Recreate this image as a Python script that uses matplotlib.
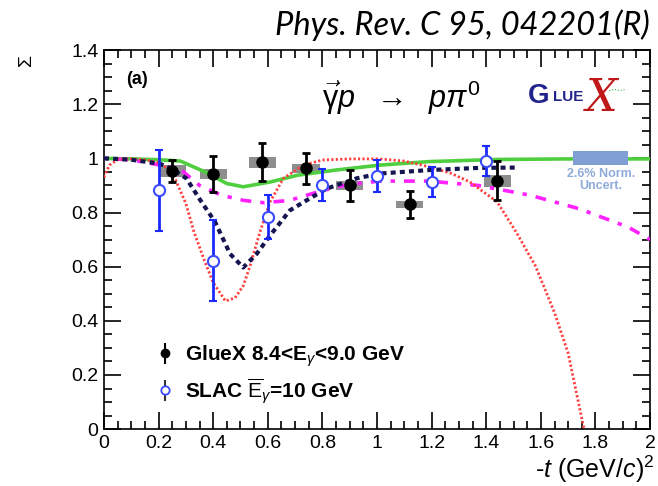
import numpy as np
import matplotlib
matplotlib.use("Agg")
import matplotlib.pyplot as plt
from matplotlib.patches import Rectangle

plt.rcParams['font.family'] = ['Liberation Sans', 'DejaVu Sans']
plt.rcParams['mathtext.fontset'] = 'custom'
plt.rcParams['mathtext.rm'] = 'Liberation Sans'
plt.rcParams['mathtext.it'] = 'Liberation Sans:italic'
plt.rcParams['mathtext.bf'] = 'Liberation Sans:bold'

# GlueX data (black), stat errors and systematic boxes
gx_t = [0.25, 0.40, 0.58, 0.74, 0.90, 1.12, 1.44]
gx_sig = [0.954, 0.942, 0.985, 0.963, 0.900, 0.830, 0.917]
gx_err = [0.040, 0.065, 0.070, 0.058, 0.056, 0.049, 0.072]
gx_sys = [0.021, 0.018, 0.020, 0.018, 0.017, 0.013, 0.022]

# SLAC data (blue open)
slac_t = [0.20, 0.40, 0.60, 0.80, 1.00, 1.20, 1.40]
slac_sig = [0.882, 0.622, 0.783, 0.903, 0.935, 0.913, 0.990]
slac_err = [0.150, 0.150, 0.080, 0.059, 0.059, 0.055, 0.056]

# theory curves
green_t = [0, 0.1, 0.2, 0.28, 0.37, 0.45, 0.51, 0.61, 0.71, 0.85, 1.01, 1.19, 1.44, 1.7, 2.0]
green_s = [1.0, 0.998, 0.995, 0.99, 0.95, 0.907, 0.895, 0.913, 0.938, 0.957, 0.975, 0.988, 0.996, 0.998, 0.998]

navy_t = [0, 0.1, 0.205, 0.25, 0.302, 0.35, 0.407, 0.462, 0.51, 0.559, 0.608, 0.681, 0.742, 0.815, 0.925, 1.01, 1.194, 1.377, 1.51]
navy_s = [1.0, 0.995, 0.98, 0.96, 0.926, 0.85, 0.765, 0.647, 0.597, 0.647, 0.715, 0.808, 0.845, 0.888, 0.926, 0.944, 0.957, 0.965, 0.966]

red_t = [0, 0.02, 0.05, 0.1, 0.15, 0.2, 0.23, 0.26, 0.30, 0.33, 0.366, 0.40, 0.445, 0.48, 0.51, 0.535, 0.571, 0.608,
         0.657, 0.73, 0.80, 0.90, 1.01, 1.10, 1.19, 1.27, 1.34, 1.44, 1.51, 1.58, 1.65, 1.70, 1.758]
red_s = [0.93, 0.975, 0.995, 0.998, 0.995, 0.985, 0.965, 0.926, 0.833, 0.727, 0.628, 0.541, 0.473, 0.485, 0.529, 0.603,
         0.727, 0.839, 0.926, 0.975, 0.994, 0.998, 0.998, 0.99, 0.969, 0.945, 0.913, 0.839, 0.727, 0.603, 0.43, 0.28, 0.0]

mag_t = [0, 0.1, 0.205, 0.276, 0.35, 0.43, 0.51, 0.587, 0.68, 0.803, 0.9, 1.01, 1.19, 1.37, 1.56, 1.74, 1.92, 2.0]
mag_s = [1.0, 0.995, 0.975, 0.963, 0.90, 0.864, 0.845, 0.836, 0.845, 0.882, 0.905, 0.916, 0.916, 0.90, 0.864, 0.814, 0.746, 0.70]

legend_labels = [r'GlueX 8.4<E$_{\gamma}$<9.0 GeV', r'SLAC $\overline{\mathrm{E}}_{\gamma}$=10 GeV']

fig = plt.figure(figsize=(6.58, 4.86), dpi=100)
ax = fig.add_axes([0.158, 0.117, 0.830, 0.780])

# systematic boxes
for t, s, e in zip(gx_t, gx_sys, gx_sig):
    ax.add_patch(Rectangle((t - 0.05, e - s), 0.10, 2 * s, color='#8e8e8e', zorder=2, lw=0))

ax.plot(green_t, green_s, color='#4fcf3f', lw=2.6, zorder=3)
ax.plot(mag_t, mag_s, color='#ff22ff', lw=2.6, dashes=(1.2, 2.5, 3, 2.5), zorder=3)
ax.plot(red_t, red_s, color='#ff4040', lw=2.0, dashes=(0.8, 0.8), zorder=3)
ax.plot(navy_t, navy_s, color='#141450', lw=3.0, dashes=(1.2, 1.0), zorder=3)

ax.errorbar(gx_t, gx_sig, yerr=gx_err, fmt='o', color='black', ms=8, capsize=3,
            elinewidth=2, capthick=2, zorder=5)
ax.errorbar(slac_t, slac_sig, yerr=slac_err, fmt='o', color='#1a2aff', mfc='white',
            mec='#3a4aff', mew=1.5, ms=8, capsize=3, elinewidth=2, capthick=2, zorder=4)

# legend proxies: marker with plain vertical bar
h1 = ax.errorbar([np.nan], [np.nan], yerr=[0.1], fmt='o', color='black', ms=6, elinewidth=1.5, capsize=0)
h2 = ax.errorbar([np.nan], [np.nan], yerr=[0.1], fmt='o', color='#333333', mfc='white', mec='#3a4aff',
                 mew=1.3, ms=6, elinewidth=1.5, capsize=0)

# normalization uncertainty box
ax.add_patch(Rectangle((1.716, 0.975), 0.202, 0.052, color='#7f9fd5', lw=0, zorder=3))
ax.text(1.82, 0.92, '2.6% Norm.\nUncert.', color='#8fabd9', fontsize=9, fontweight='bold',
        ha='center', va='center', linespacing=0.95)

ax.set_xlim(0, 2)
ax.set_ylim(0, 1.4)
ax.set_xticks(np.arange(0, 2.01, 0.2))
ax.set_xticklabels(['0', '0.2', '0.4', '0.6', '0.8', '1', '1.2', '1.4', '1.6', '1.8', '2'])
ax.set_yticks(np.arange(0, 1.41, 0.2))
ax.set_yticklabels(['0', '0.2', '0.4', '0.6', '0.8', '1', '1.2', '1.4'])
ax.set_xticks(np.arange(0, 2.01, 0.05), minor=True)
ax.set_yticks(np.arange(0, 1.41, 0.05), minor=True)
ax.tick_params(which='both', direction='in', top=True, right=True, width=1.2)
ax.tick_params(which='major', length=12, labelsize=14, pad=4)
ax.tick_params(which='minor', length=6)
for sp in ax.spines.values():
    sp.set_linewidth(1.2)

ax.text(0.08, 1.29, '(a)', fontsize=13, fontweight='bold', ha='left', va='center')
ax.text(0.80, 1.225, r'$\vec{\mathrm{\gamma}}p\ \ \rightarrow\ \ p\pi^{0}$', fontsize=22, ha='left', va='center')

# GlueX logo
ax.text(1.553, 1.23, 'G', color='#23238c', fontsize=20, fontweight='bold', ha='left', va='center')
ax.text(1.645, 1.225, 'LUE', color='#23238c', fontsize=11, fontweight='bold', ha='left', va='center')
ax.plot([1.85, 1.87, 1.89, 1.91], [1.25, 1.255, 1.25, 1.255], color='#44bb44', lw=0.8, ls=':')
ax.text(1.765, 1.22, 'X', color='#c01818', fontsize=32, style='italic', family='DejaVu Serif',
        ha='left', va='center')

ax.legend([h1, h2], legend_labels, loc='lower left', bbox_to_anchor=(0.058, 0.012), frameon=False,
          handlelength=1.0, handletextpad=0.45, labelspacing=0.35,
          prop={'weight': 'bold', 'size': 15})

fig.text(0.988, 0.948, 'Phys. Rev. C 95, 042201(R)', fontsize=23.5, style='italic',
         family='Lato', ha='right', va='center')
fig.text(0.04, 0.877, 'Σ', fontsize=14, rotation=90, ha='center', va='center')
fig.text(0.995, 0.035, r'-$t$ (GeV/$c$)$^2$', fontsize=18, ha='right', va='center')

fig.savefig('out.png', dpi=100)
